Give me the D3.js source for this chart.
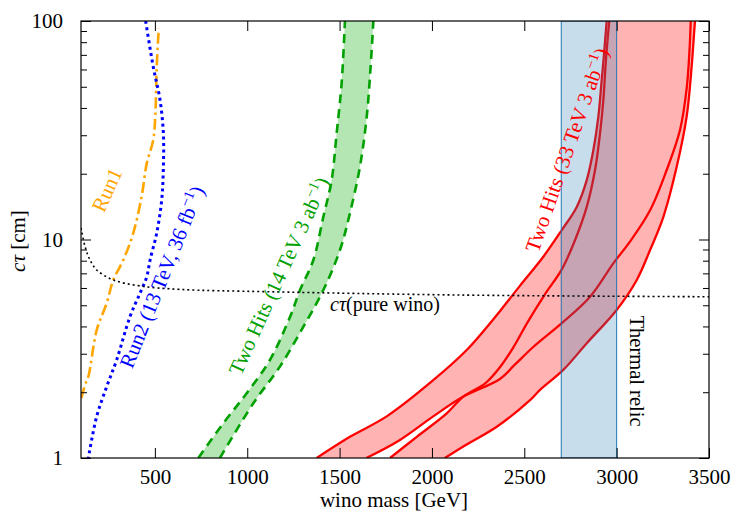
<!DOCTYPE html>
<html>
<head>
<meta charset="utf-8">
<script src="https://cdn.jsdelivr.net/npm/d3@7"></script>
<style>
  body { margin: 0; background: #fff; }
  svg { display: block; font-family: "Liberation Serif", "Times New Roman", serif; }
</style>
</head>
<body>
<svg id="chart" width="742" height="522"></svg>
<script>
// --- Data: [wino mass (GeV), c*tau (cm)] ---
const run1 = [[102, 1.88], [122, 2.16], [140, 2.36], [185, 3.85], [239, 5.11], [275, 6.53],
  [329, 8.06], [383, 10.7], [428, 15.7], [456, 22.3], [491, 28.5], [502, 36.5], [510, 61.8], [521, 92.6]];

const run2 = [[450, 100], [491, 61.8], [528, 43.5], [546, 30.6], [546, 21.5], [537, 15.2],
  [510, 10.7], [474, 8.06], [456, 6.75], [419, 5.67], [365, 4.43], [293, 2.81], [239, 2.12],
  [185, 1.55], [140, 1]];

// 14 TeV band edges
const green14Left = [[735, 1], [870, 1.44], [997, 1.98], [1123, 2.81], [1232, 4.43], [1286, 5.87],
  [1358, 8.06], [1412, 12.7], [1457, 18.7], [1484, 30.6], [1511, 51.9], [1529, 100]];
const green14Right = [[852, 1], [1033, 1.78], [1177, 2.62], [1304, 3.99], [1412, 5.87], [1502, 8.95],
  [1556, 13.2], [1610, 21.5], [1647, 36.5], [1668, 61.8], [1683, 100]];

// 33 TeV: two bands (A..B and C..D)
const red33A = [[1376, 1], [1556, 1.25], [1755, 1.55], [2007, 2.27], [2188, 3.12], [2368, 4.7],
  [2477, 6.15], [2603, 8.34], [2703, 11.05], [2784, 14.1], [2838, 18.7], [2874, 25.7], [2901, 36.5],
  [2919, 53.7], [2930, 68], [2946, 100]];
const red33B = [[1645, 1], [1827, 1.21], [2007, 1.55], [2170, 1.91], [2368, 2.3], [2450, 2.68],
  [2550, 3.23], [2703, 4.14], [2856, 5.47], [2982, 7.78], [3072, 9.77], [3181, 13.6], [3271, 20.8],
  [3343, 31.7], [3380, 50], [3395, 75], [3401, 100]];
const red33C = [[1773, 1], [1918, 1.25], [2080, 1.6], [2170, 1.91], [2290, 2.2], [2368, 2.6],
  [2440, 3.2], [2519, 4.2], [2609, 5.57], [2703, 7.3], [2775, 9.95], [2838, 14.1], [2883, 20.8],
  [2910, 30.6], [2928, 43.5], [2942, 66.3], [2960, 100]];
const red33D = [[2070, 1], [2170, 1.13], [2351, 1.39], [2531, 1.84], [2585, 2.05], [2711, 2.53],
  [2838, 3.35], [3000, 4.76], [3109, 6.53], [3181, 8.95], [3253, 12.7], [3325, 21.5], [3379, 36.5],
  [3406, 61.8], [3418, 85], [3424, 100]];

const pureWino = [[100, 11.3], [122, 9.27], [149, 8.06], [185, 7.25], [275, 6.53], [419, 6.13],
  [636, 5.91], [1105, 5.77], [2152, 5.57], [3500, 5.47]];

const thermalRelic = [2700, 3000];

const xTicks = [500, 1000, 1500, 2000, 2500, 3000, 3500];
const yMajor = [1, 10, 100];
const yMinor = [2, 3, 4, 5, 6, 7, 8, 9, 20, 30, 40, 50, 60, 70, 80, 90];

// --- Layout ---
const plotLeft = 81, plotRight = 709, plotTop = 21, plotBottom = 458;
const svg = d3.select('#chart');

const x = d3.scaleLinear().domain([100, 3500]).range([plotLeft, plotRight]);
const y = d3.scaleLog().domain([1, 100]).range([plotBottom, plotTop]);

svg.append('clipPath').attr('id', 'plot-clip')
  .append('rect')
  .attr('x', plotLeft).attr('y', plotTop)
  .attr('width', plotRight - plotLeft).attr('height', plotBottom - plotTop);

const plot = svg.append('g').attr('clip-path', 'url(#plot-clip)');

const line = d3.line()
  .x(d => x(d[0]))
  .y(d => y(d[1]))
  .curve(d3.curveCatmullRom.alpha(0.5));

// closed region between two edges
function bandPath(edgeA, edgeB) {
  const a = line(edgeA);
  const b = line(edgeB.slice().reverse());
  return a + 'L' + b.slice(1) + 'Z';
}

// --- 14 TeV band ---
plot.append('path')
  .attr('d', bandPath(green14Left, green14Right))
  .attr('fill', '#b3e6b3');
[green14Left, green14Right].forEach(edge => {
  plot.append('path')
    .attr('d', line(edge))
    .attr('fill', 'none')
    .attr('stroke', '#00a000')
    .attr('stroke-width', 2.6)
    .attr('stroke-dasharray', '9 6');
});

// --- 33 TeV bands ---
plot.append('path').attr('d', bandPath(red33A, red33B)).attr('fill', '#ffb3b3');
plot.append('path').attr('d', bandPath(red33C, red33D)).attr('fill', '#ffb3b3');
[red33A, red33B, red33C, red33D].forEach(edge => {
  plot.append('path')
    .attr('d', line(edge))
    .attr('fill', 'none')
    .attr('stroke', '#ff0000')
    .attr('stroke-width', 2.3);
});

// --- Thermal relic band (on top, translucent) ---
plot.append('rect')
  .attr('x', x(thermalRelic[0]))
  .attr('y', plotTop)
  .attr('width', x(thermalRelic[1]) - x(thermalRelic[0]))
  .attr('height', plotBottom - plotTop)
  .attr('fill', '#1f77b4')
  .attr('fill-opacity', 0.25)
  .attr('stroke', '#1f77b4')
  .attr('stroke-width', 1);

// --- Run 1 / Run 2 limits ---
plot.append('path')
  .attr('d', line(run1))
  .attr('fill', 'none')
  .attr('stroke', '#ffa500')
  .attr('stroke-width', 2.6)
  .attr('stroke-dasharray', '11 4 2.5 4');

plot.append('path')
  .attr('d', line(run2))
  .attr('fill', 'none')
  .attr('stroke', '#0000ff')
  .attr('stroke-width', 3)
  .attr('stroke-dasharray', '3 3.5');

// --- pure wino lifetime ---
plot.append('path')
  .attr('d', line(pureWino))
  .attr('fill', 'none')
  .attr('stroke', '#000')
  .attr('stroke-width', 1.6)
  .attr('stroke-dasharray', '2 3');

// --- Axes (ticks pointing inward) ---
function styleAxis(g) {
  g.select('.domain').remove();
  g.attr('font-family', null).attr('font-size', null);
  g.selectAll('line').attr('stroke', '#000').attr('stroke-width', 1);
  g.selectAll('text').attr('fill', '#000').style('font-size', '21px');
}

svg.append('g')
  .attr('transform', `translate(0,${plotBottom})`)
  .call(d3.axisBottom(x).tickValues(xTicks).tickSize(-10).tickPadding(11).tickFormat(d3.format('d')))
  .call(styleAxis);
svg.append('g')
  .attr('transform', `translate(0,${plotTop})`)
  .call(d3.axisTop(x).tickValues(xTicks).tickSize(-10).tickFormat(() => ''))
  .call(styleAxis);

svg.append('g')
  .attr('transform', `translate(${plotLeft},0)`)
  .call(d3.axisLeft(y).tickValues(yMajor).tickSize(-10).tickPadding(18).tickFormat(d3.format('d')))
  .call(styleAxis);
svg.append('g')
  .attr('transform', `translate(${plotLeft},0)`)
  .call(d3.axisLeft(y).tickValues(yMinor).tickSize(-6).tickFormat(() => ''))
  .call(styleAxis);
svg.append('g')
  .attr('transform', `translate(${plotRight},0)`)
  .call(d3.axisRight(y).tickValues(yMajor).tickSize(-10).tickFormat(() => ''))
  .call(styleAxis);
svg.append('g')
  .attr('transform', `translate(${plotRight},0)`)
  .call(d3.axisRight(y).tickValues(yMinor).tickSize(-6).tickFormat(() => ''))
  .call(styleAxis);

// frame
svg.append('rect')
  .attr('x', plotLeft).attr('y', plotTop)
  .attr('width', plotRight - plotLeft).attr('height', plotBottom - plotTop)
  .attr('fill', 'none')
  .attr('stroke', '#000')
  .attr('stroke-width', 1.2);

// --- Axis titles ---
svg.append('text')
  .attr('x', 394).attr('y', 507)
  .attr('text-anchor', 'middle')
  .style('font-size', '21px')
  .text('wino mass [GeV]');

const yTitle = svg.append('text')
  .attr('transform', 'translate(25,241) rotate(-90)')
  .attr('text-anchor', 'middle')
  .style('font-size', '21px');
yTitle.append('tspan').style('font-style', 'italic').text('cτ');
yTitle.append('tspan').text(' [cm]');

// --- Annotations ---
// parts: [text, isSuperscript]
function label(cx, cy, angle, color, parts, size) {
  const t = svg.append('text')
    .attr('transform', `translate(${cx},${cy}) rotate(${angle})`)
    .attr('text-anchor', 'middle')
    .attr('y', 7)
    .attr('fill', color)
    .style('font-size', size + 'px');
  let raised = false;
  parts.forEach(([txt, sup]) => {
    const s = t.append('tspan').text(txt);
    if (sup && !raised) { s.attr('dy', -8).style('font-size', (size * 0.7) + 'px'); raised = true; }
    else if (!sup && raised) { s.attr('dy', 8); raised = false; }
  });
  return t;
}

label(107, 190, -65.6, '#ffa500', [['Run1']], 21);
label(162, 277, -68, '#0000ff', [['Run2 (13 TeV, 36 fb'], ['−1', true], [')']], 21);
label(279, 276, -65.5, '#00a000', [['Two Hits (14 TeV 3 ab'], ['−1', true], [')']], 21);
label(567, 150, -70.7, '#ff0000', [['Two Hits (33 TeV 3 ab'], ['−1', true], [')']], 21);

const wino = svg.append('text')
  .attr('x', 330).attr('y', 311)
  .style('font-size', '20px');
wino.append('tspan').style('font-style', 'italic').text('cτ');
wino.append('tspan').text('(pure wino)');

svg.append('text')
  .attr('transform', 'translate(630,371) rotate(90)')
  .attr('text-anchor', 'middle')
  .style('font-size', '20.5px')
  .text('Thermal relic');
</script>
</body>
</html>
